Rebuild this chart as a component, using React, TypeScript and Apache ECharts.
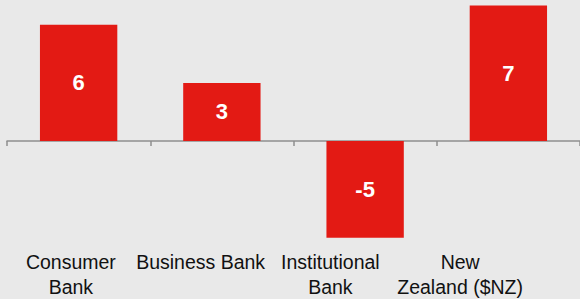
import React, { useEffect, useRef } from "react";
import * as echarts from "echarts";

const categories = ["Consumer\nBank", "Business Bank", "Institutional\nBank", "New\nZealand ($NZ)"];
const values = [6, 3, -5, 7];
const yMin = -5;
const yMax = 7;

export default function App() {
  const ref = useRef<HTMLDivElement>(null);
  useEffect(() => {
    if (!ref.current) return;
    const chart = echarts.init(ref.current, null, { renderer: "svg" });
    const font = "'Liberation Sans', Arial, sans-serif";
    chart.setOption({
      animation: false,
      backgroundColor: "#e9e9e9",
      grid: [
        { left: 7, width: 576, top: 5.5, height: 232.25 },
        { left: 6, width: 519, top: 5.5, height: 232.25 },
      ],
      xAxis: [
        {
          type: "category",
          gridIndex: 0,
          data: categories,
          axisLine: { show: true, onZero: true, lineStyle: { color: "#8e8e8e", width: 1.5 } },
          axisTick: { show: true, length: 5, lineStyle: { color: "#8e8e8e", width: 1.5 } },
          axisLabel: { show: false },
        },
        {
          type: "category",
          gridIndex: 1,
          data: categories,
          axisLine: { show: false, onZero: false },
          axisTick: { show: false },
          axisLabel: {
            show: true,
            interval: 0,
            margin: 12,
            color: "#111111",
            fontFamily: font,
            fontSize: 19.5,
            lineHeight: 25,
            align: "center",
          },
        },
      ],
      yAxis: [
        { type: "value", gridIndex: 0, min: yMin, max: yMax, show: false },
        { type: "value", gridIndex: 1, min: 0, max: 1, show: false },
      ],
      series: [
        {
          type: "bar",
          xAxisIndex: 0,
          yAxisIndex: 0,
          data: values,
          barWidth: "54%",
          itemStyle: { color: "#e31a14" },
          label: {
            show: true,
            position: "inside",
            color: "#ffffff",
            fontFamily: font,
            fontWeight: "bold",
            fontSize: 22,
          },
        },
      ],
    });
    return () => chart.dispose();
  }, []);
  return (
    <div
      ref={ref}
      style={{ position: "absolute", left: 0, top: 0, width: 580, height: 299 }}
    />
  );
}
